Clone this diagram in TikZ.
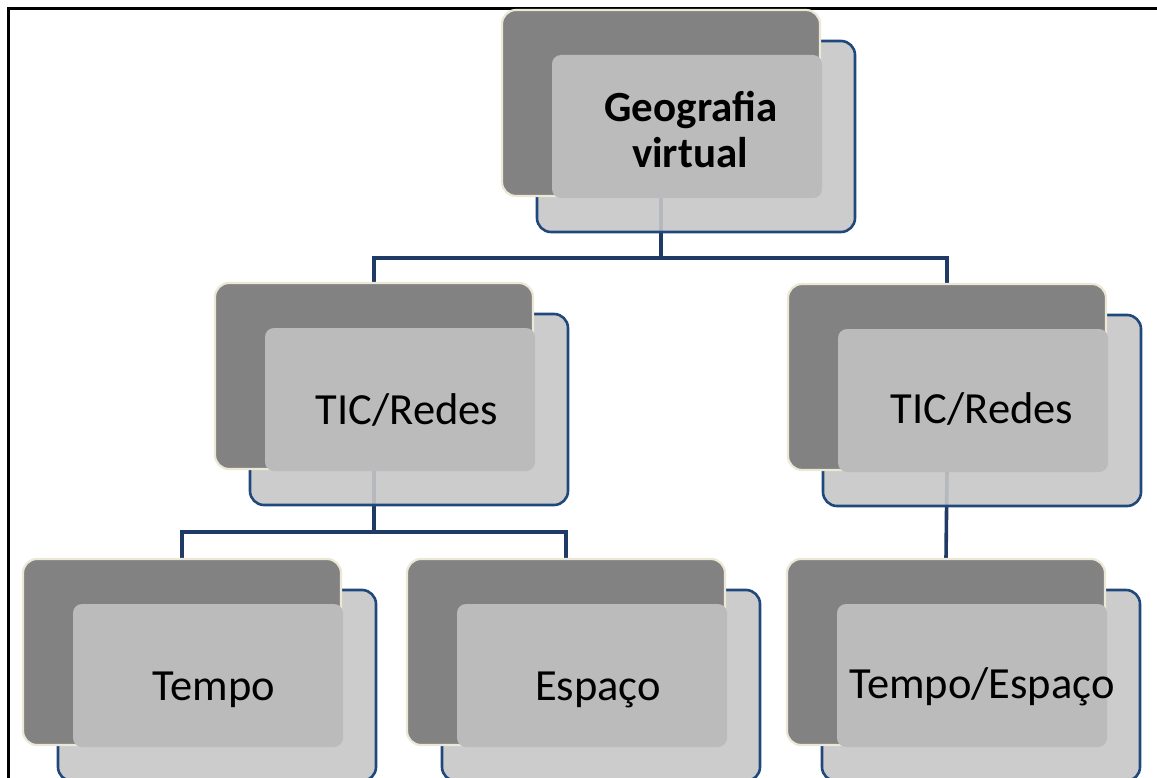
\documentclass[tikz,border=0pt]{standalone}
\usepackage{fontspec}
\setmainfont{Carlito}
\usetikzlibrary{backgrounds}

\definecolor{shelldark}{HTML}{828282}
\definecolor{shellrim}{HTML}{EBE8D6}
\definecolor{panelfill}{HTML}{C6C6C6}
\definecolor{panelrim}{HTML}{1F497D}
\definecolor{facefill}{HTML}{BBBBBB}
\definecolor{linknavy}{HTML}{1F3A64}

\tikzset{
  darkbox/.style={draw=shellrim, line width=2.2pt, fill=shelldark,
    rounded corners=14pt, minimum width=318pt, minimum height=186pt,
    anchor=north west, inner sep=0pt, outer sep=0pt},
  bluebox/.style={draw=panelrim, line width=2.6pt, fill=panelfill, fill opacity=0.9,
    rounded corners=14pt, minimum width=318pt, minimum height=191pt,
    anchor=north west, inner sep=0pt, outer sep=0pt},
  innerbox/.style={fill=facefill, rounded corners=9pt,
    minimum width=270pt, minimum height=143pt,
    anchor=north west, inner sep=0pt, outer sep=0pt},
  label/.style={anchor=base, inner sep=0pt, text=black,
    font=\fontsize{44.5}{48}\selectfont},
  boldlabel/.style={label, font=\fontsize{43}{46}\selectfont\bfseries},
  conn/.style={draw=linknavy, line width=3.6pt},
  frame/.style={draw=black, line width=3pt}
}

% one hierarchy shape: blue framed plate at the back, dark plate over it,
% light face in front covering the dark plate's lower right
\newcommand\levelbox[3]{%
  \node[bluebox]  (#1-b) at (#2+35,#3+31) {};
  \node[darkbox]  (#1-d) at (#2,#3) {};
  \node[innerbox] (#1-i) at (#2+50,#3+45) {};
}

\begin{document}
\begin{tikzpicture}[x=1pt,y=-1pt]
  \useasboundingbox (0,0) rectangle (1157,778);

  % outer frame (left and top edges)
  \coordinate (fa) at (8,778);
  \coordinate (fb) at (8,9);
  \coordinate (fc) at (1157,9);
  \draw[frame] (fa) -- (fb) -- (fc);

  \levelbox{top}{502}{10}
  \levelbox{midL}{215}{283}
  \levelbox{midR}{788}{284}
  \levelbox{botL}{23}{559}
  \levelbox{botM}{407}{559}
  \levelbox{botR}{787}{559}

  \node[boldlabel] (geo1) at (691,122) {Geografia};
  \node[boldlabel] (geo2) at (690,168) {virtual};
  \node[label] (ticL)   at (407,424) {TIC/Redes};
  \node[label] (ticR)   at (982,423) {TIC/Redes};
  \node[label] (tempo)  at (214,700) {Tempo};
  \node[label] (espaco) at (598,700) {Espaço};
  \node[label] (te)     at (982,698) {Tempo/Espaço};

  % connectors, behind the shapes
  \coordinate (j1) at (0,258);
  \coordinate (j2) at (0,532);
  \begin{scope}[on background layer]
    \draw[conn] (top-d.south) -- (top-d.south |- j1) -| (midL-d.north);
    \draw[conn] (top-d.south |- j1) -| (midR-d.north);
    \draw[conn] (midL-d.south) -- (midL-d.south |- j2) -| (botL-d.north);
    \draw[conn] (midL-d.south |- j2) -| (botM-d.north);
    \draw[conn] (midR-d.south) -- (botR-d.north);
  \end{scope}
\end{tikzpicture}
\end{document}
